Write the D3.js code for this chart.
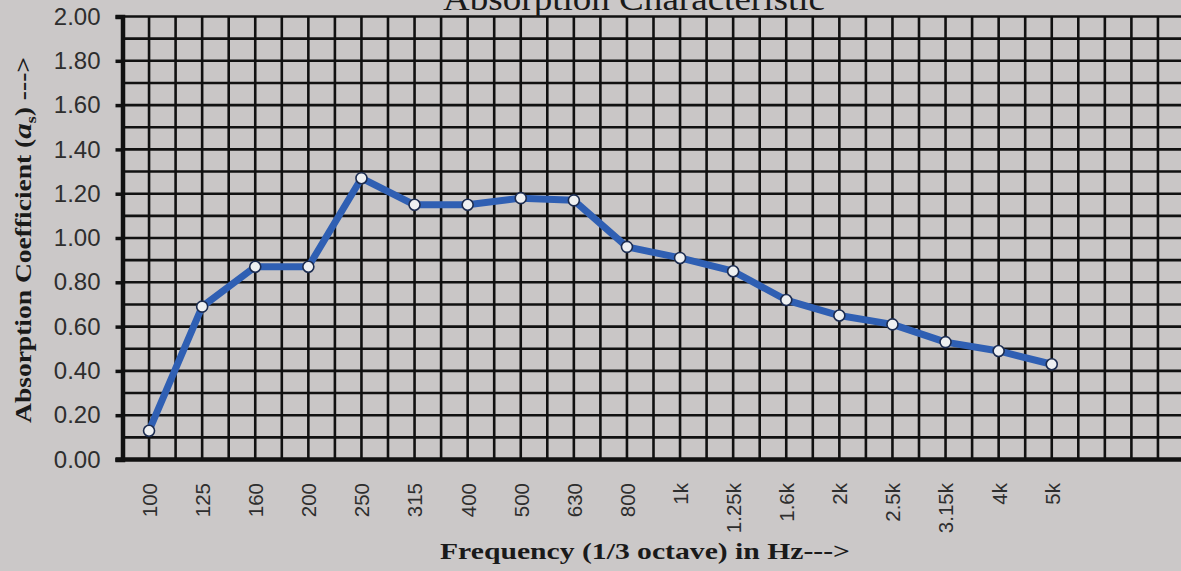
<!DOCTYPE html>
<html>
<head>
<meta charset="utf-8">
<script src="https://cdn.jsdelivr.net/npm/d3@7/dist/d3.min.js"></script>
<style>
  html, body { margin: 0; padding: 0; background: #cbc8c8; }
  svg { display: block; }
</style>
</head>
<body>
<svg id="chart" width="1181" height="571"></svg>
<script>
// ---- data ----
const categories = ["100","125","160","200","250","315","400","500","630","800","1k","1.25k","1.6k","2k","2.5k","3.15k","4k","5k"];
const absorption = [0.13, 0.69, 0.87, 0.87, 1.27, 1.15, 1.15, 1.18, 1.17, 0.96, 0.91, 0.85, 0.72, 0.65, 0.61, 0.53, 0.49, 0.43];
const yTickValues = [0.00, 0.20, 0.40, 0.60, 0.80, 1.00, 1.20, 1.40, 1.60, 1.80, 2.00];
const titleText = "Absorption Characteristic";
const xTitle = "Frequency (1/3 octave) in Hz--->";

(function () {
// ---- layout ----
const svg = d3.select("#chart");
const mLeft = 122.5, mTop = 16.5, mBottom = 459.5;
const step = 53.1;
const nSlots = 20; // grid continues past last labelled band

const xIdx = d3.scaleLinear().domain([-0.5, nSlots - 0.5]).range([mLeft, mLeft + nSlots * step]);
const x = d3.scalePoint().domain(categories).range([xIdx(0), xIdx(categories.length - 1)]);
const y = d3.scaleLinear().domain([0, 2]).range([mBottom, mTop]);

// background of plot
svg.append("rect").attr("x", mLeft).attr("y", mTop).attr("width", 1181 - mLeft).attr("height", mBottom - mTop)
  .attr("fill", "#c9c6c6");

// grid
const grid = svg.append("g").attr("stroke", "#111").attr("stroke-width", 2.6);
const vLines = d3.range(-0.5, nSlots, 0.5);
grid.selectAll("line.v").data(vLines).join("line")
  .attr("x1", d => xIdx(d)).attr("x2", d => xIdx(d))
  .attr("y1", mTop).attr("y2", mBottom);
const hLines = d3.range(0, 21).map(i => i / 10);
grid.selectAll("line.h").data(hLines).join("line")
  .attr("x1", mLeft).attr("x2", 1181)
  .attr("y1", d => y(d)).attr("y2", d => y(d));

// y axis
const yAxis = svg.append("g").attr("transform", `translate(${mLeft},0)`)
  .call(d3.axisLeft(y).tickValues(yTickValues).tickFormat(d3.format(".2f")).tickSize(7).tickPadding(15));
yAxis.select(".domain").attr("stroke", "#111").attr("stroke-width", 4.5);
yAxis.selectAll(".tick line").attr("stroke", "#111").attr("stroke-width", 3.5);
yAxis.selectAll(".tick text").attr("font-family", "Liberation Sans, Arial, sans-serif")
  .attr("font-size", 24).attr("fill", "#2e2e2e");

// x axis baseline
svg.append("line").attr("x1", mLeft - 7).attr("x2", 1181).attr("y1", mBottom).attr("y2", mBottom)
  .attr("stroke", "#111").attr("stroke-width", 4.5);

// x axis labels
const xAxis = svg.append("g").attr("transform", `translate(0,${mBottom})`)
  .call(d3.axisBottom(x).tickSize(0).tickPadding(0));
xAxis.select(".domain").remove();
xAxis.selectAll(".tick text")
  .attr("font-family", "Liberation Sans, Arial, sans-serif")
  .attr("font-size", 20.5).attr("fill", "#2e2e2e")
  .attr("text-anchor", "end")
  .attr("dy", "0.36em")
  .attr("transform", "translate(0,23.5) rotate(-90)")
  .attr("x", 0).attr("y", 0);

// line
const line = d3.line().x((d, i) => x(categories[i])).y(d => y(d));
svg.append("path").datum(absorption).attr("d", line)
  .attr("fill", "none").attr("stroke", "#2f5fb3").attr("stroke-width", 7)
  .attr("stroke-linejoin", "round").attr("stroke-linecap", "round");

svg.selectAll("circle.pt").data(absorption).join("circle")
  .attr("cx", (d, i) => x(categories[i])).attr("cy", d => y(d)).attr("r", 5.5)
  .attr("fill", "#eef0f2").attr("stroke", "#1c2c50").attr("stroke-width", 1.6);

// titles
svg.append("text").attr("x", 634).attr("y", 9.5).attr("text-anchor", "middle")
  .attr("font-family", "Liberation Serif, Times New Roman, serif").attr("font-size", 33)
  .attr("textLength", 382).attr("lengthAdjust", "spacingAndGlyphs")
  .attr("fill", "#1a1a1a").text(titleText);

svg.append("text").attr("x", 645).attr("y", 559).attr("text-anchor", "middle")
  .attr("font-family", "Liberation Serif, Times New Roman, serif").attr("font-weight", "bold")
  .attr("font-size", 24).attr("textLength", 410).attr("lengthAdjust", "spacingAndGlyphs")
  .attr("fill", "#1a1a1a").text(xTitle);

const yt = svg.append("text").attr("transform", "translate(31,240) rotate(-90)").attr("text-anchor", "middle")
  .attr("font-family", "Liberation Serif, Times New Roman, serif").attr("font-weight", "bold")
  .attr("font-size", 23).attr("textLength", 366).attr("lengthAdjust", "spacingAndGlyphs")
  .attr("fill", "#1a1a1a");
yt.append("tspan").text("Absorption Coefficient (");
yt.append("tspan").attr("font-style", "italic").attr("font-size", 26).text("a");
yt.append("tspan").attr("font-size", 15).attr("dy", 5).text("s");
yt.append("tspan").attr("dy", -5).text(") --->");
})();
</script>
</body>
</html>
